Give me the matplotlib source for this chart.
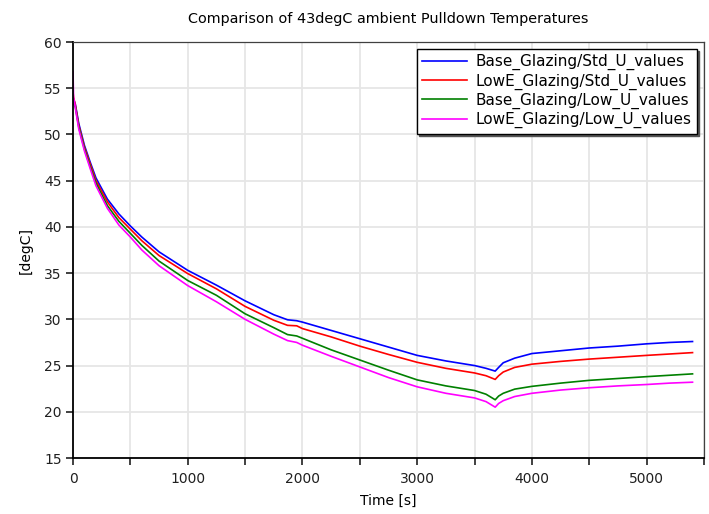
import matplotlib
matplotlib.use("Agg")
import matplotlib.pyplot as plt
from matplotlib.ticker import MultipleLocator, FuncFormatter

# Zeitachse [s]
time_s = [0, 5, 20, 50, 100, 150, 200, 300, 400, 500, 600, 750, 1000, 1250, 1500,
          1750, 1870, 1950, 2000, 2250, 2500, 2750, 3000, 3250, 3500, 3600, 3680,
          3710, 3750, 3850, 4000, 4250, 4500, 4750, 5000, 5200, 5400]

# Temperaturen [degC]
base_std = [54.0, 53.8, 53.3, 51.2, 48.8, 47.0, 45.3, 43.0, 41.4, 40.1, 38.9, 37.3, 35.3, 33.7, 32.0,
            30.5, 29.95, 29.85, 29.7, 28.8, 27.9, 27.0, 26.1, 25.5, 25.0, 24.7, 24.4,
            24.8, 25.3, 25.8, 26.3, 26.6, 26.9, 27.1, 27.35, 27.5, 27.6]
lowe_std = [54.6, 54.0, 53.2, 51.0, 48.6, 46.8, 45.0, 42.7, 41.0, 39.75, 38.5, 36.9, 34.95, 33.3, 31.4,
            29.9, 29.35, 29.3, 29.0, 28.1, 27.1, 26.2, 25.35, 24.7, 24.2, 23.9, 23.5,
            23.9, 24.3, 24.8, 25.15, 25.45, 25.7, 25.9, 26.1, 26.25, 26.4]
base_low = [53.5, 53.3, 53.0, 50.8, 48.4, 46.5, 44.75, 42.3, 40.6, 39.3, 38.0, 36.3, 34.2, 32.6, 30.6,
            29.1, 28.35, 28.2, 27.95, 26.7, 25.6, 24.5, 23.45, 22.8, 22.3, 21.9, 21.3,
            21.7, 22.0, 22.45, 22.75, 23.1, 23.4, 23.6, 23.8, 23.95, 24.1]
lowe_low = [56.8, 54.0, 52.9, 50.6, 48.2, 46.3, 44.45, 42.0, 40.2, 38.9, 37.5, 35.8, 33.65, 31.9, 30.0,
            28.4, 27.7, 27.5, 27.2, 26.0, 24.85, 23.7, 22.7, 22.0, 21.5, 21.1, 20.5,
            20.9, 21.2, 21.65, 22.0, 22.35, 22.6, 22.8, 22.95, 23.1, 23.2]

labels = ["Base_Glazing/Std_U_values", "LowE_Glazing/Std_U_values",
          "Base_Glazing/Low_U_values", "LowE_Glazing/Low_U_values"]
colors = ["#0000ff", "#ff0000", "#008000", "#ff00ff"]

plt.rcParams["font.family"] = "DejaVu Sans"

fig = plt.figure(figsize=(7.09, 5.14), dpi=100)
ax = fig.add_axes([73 / 709, 1 - 458 / 514, (704 - 73) / 709, (458 - 42) / 514])

for y, lab, c in zip([base_std, lowe_std, base_low, lowe_low], labels, colors):
    ax.plot(time_s, y, color=c, lw=1.2, label=lab)

ax.set_xlim(0, 5500)
ax.set_ylim(15, 60)
ax.xaxis.set_major_locator(MultipleLocator(500))
ax.xaxis.set_major_formatter(FuncFormatter(lambda v, p: f"{int(v)}" if v % 1000 == 0 else ""))
ax.yaxis.set_major_locator(MultipleLocator(5))
ax.grid(True, color="#e6e6e6", lw=1.3)
ax.set_axisbelow(True)
ax.tick_params(direction="out", length=5, width=1.2, colors="#202020", labelsize=10)
ax.tick_params(axis="x", pad=5)
ax.tick_params(axis="y", pad=3)

for s in ["left", "bottom"]:
    ax.spines[s].set_color("black")
    ax.spines[s].set_linewidth(1.3)
for s in ["top", "right"]:
    ax.spines[s].set_color("#404040")
    ax.spines[s].set_linewidth(0.9)

ax.set_title("Comparison of 43degC ambient Pulldown Temperatures", fontsize=10.4, pad=14)
ax.set_xlabel("Time [s]", fontsize=10, labelpad=6)
ax.set_ylabel("[degC]", fontsize=10, labelpad=8)

leg = ax.legend(loc="upper right", fontsize=11, frameon=True, fancybox=False,
                shadow={"ox": 1.5, "oy": -1.5, "color": "#555555", "alpha": 1.0},
                handlelength=2.9, handletextpad=0.6, labelspacing=0.2, borderpad=0.35,
                borderaxespad=0.45)
leg.get_frame().set_edgecolor("black")
leg.get_frame().set_linewidth(1.0)

fig.savefig("out.png", dpi=100)
